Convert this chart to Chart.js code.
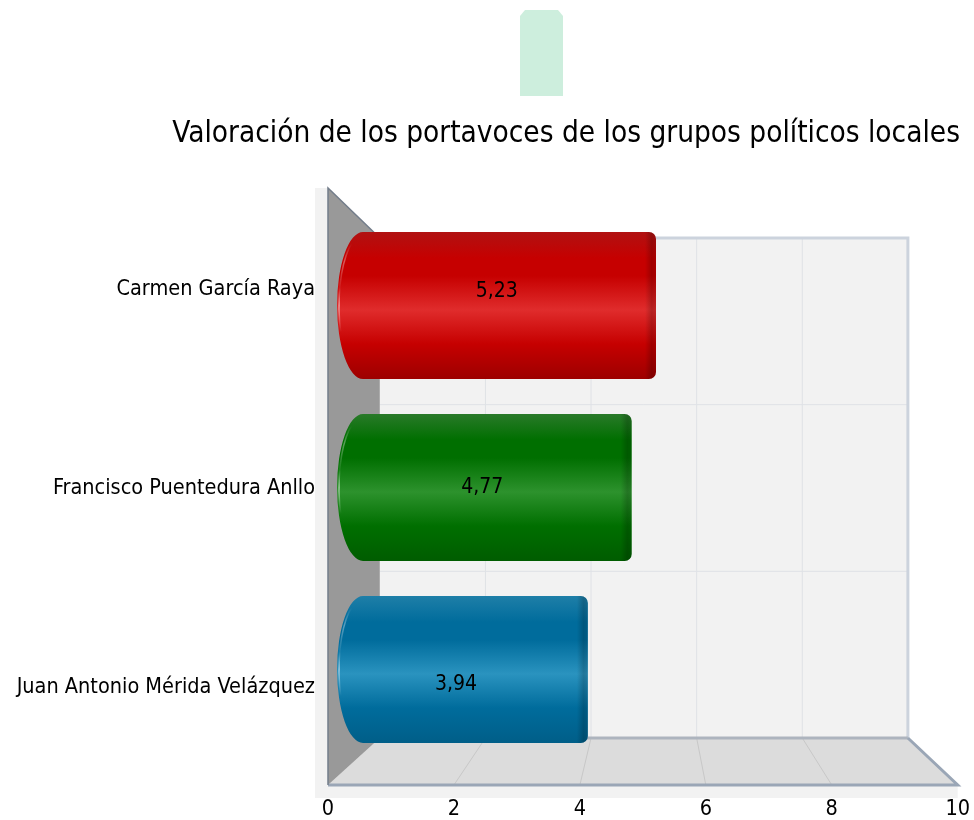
<!DOCTYPE html>
<html lang="es">
<head>
<meta charset="utf-8">
<title>Valoración de los portavoces</title>
<script src="https://cdn.jsdelivr.net/npm/chart.js@4"></script>
<style>
  html, body { margin: 0; background: #fff; overflow: hidden; }
  canvas { display: block; }
</style>
</head>
<body>
<canvas id="portavocesChart" width="974" height="820"></canvas>
<script>
// Chart data
const portavoces = ["Carmen García Raya", "Francisco Puentedura Anllo", "Juan Antonio Mérida Velázquez"];
const valoraciones = [5.23, 4.77, 3.94];
const ticksValoracion = [0, 2, 4, 6, 8, 10];
const tituloGrafico = "Valoración de los portavoces de los grupos políticos locales";

// Bar colours: top edge, body, highlight, bottom edge
const coloresArriba = ["#b01212", "#2a7a2a", "#1f7fa8"];
const coloresBase = ["#c60000", "#006f00", "#006c9c"];
const coloresBrillo = ["#e02c2c", "#2d922d", "#2a93bf"];
const coloresAbajo = ["#9c0000", "#005c00", "#005e88"];

const FONT = '"DejaVu Sans Condensed", "DejaVu Sans", sans-serif';

// Vertical cylinder shading, one gradient per bar
function barGradient(context) {
    const i = context.dataIndex;
    const chart = context.chart;
    const centre = chart.scales.yBars ? chart.scales.yBars.getPixelForValue(i) : NaN;
    if (!Number.isFinite(centre)) return coloresBase[i] || coloresBase[0];
    const half = 74;
    const g = chart.ctx.createLinearGradient(0, centre - half, 0, centre + half);
    g.addColorStop(0, coloresArriba[i]);
    g.addColorStop(0.18, coloresBase[i]);
    g.addColorStop(0.3, coloresBase[i]);
    g.addColorStop(0.53, coloresBrillo[i]);
    g.addColorStop(0.76, coloresBase[i]);
    g.addColorStop(1, coloresAbajo[i]);
    return g;
}

// Outline of a bar: half ellipse on the left, small radius on the right
function barPath(ctx, bar) {
    const left = bar.base, right = bar.x;
    const top = bar.y - bar.height / 2, bottom = bar.y + bar.height / 2;
    const rx = 26, r = 7;
    ctx.moveTo(left + rx, top);
    ctx.lineTo(right - r, top);
    ctx.arcTo(right, top, right, top + r, r);
    ctx.lineTo(right, bottom - r);
    ctx.arcTo(right, bottom, right - r, bottom, r);
    ctx.lineTo(left + rx, bottom);
    ctx.ellipse(left + rx, bar.y, rx, bar.height / 2, 0, Math.PI / 2, Math.PI * 1.5);
    ctx.closePath();
}

// The 3D box behind the bars
const frame3d = {
    id: "frame3d",
    beforeDraw(chart) {
        const ctx = chart.ctx;
        const a = chart.chartArea;
        ctx.save();
        ctx.fillStyle = "#fff";
        ctx.fillRect(0, 0, chart.width, chart.height);

        // pale block at the top of the picture
        ctx.fillStyle = "#cdeedd";
        ctx.beginPath();
        ctx.moveTo(520, 96);
        ctx.lineTo(520, 16);
        ctx.lineTo(525, 10);
        ctx.lineTo(558, 10);
        ctx.lineTo(563, 16);
        ctx.lineTo(563, 96);
        ctx.closePath();
        ctx.fill();

        // axis bands
        ctx.fillStyle = "#f2f2f2";
        ctx.fillRect(a.left - 13, a.top, 13, a.bottom - a.top);
        ctx.fillRect(a.left - 13, a.bottom, a.right - a.left + 13, 13);
        ctx.restore();
    },
    beforeDatasetsDraw(chart) {
        const ctx = chart.ctx;
        const a = chart.chartArea;
        const x = chart.scales.x;
        const back = chart.scales.xBars;
        const backLeft = back.getPixelForValue(0);
        const backRight = back.getPixelForValue(10);
        const backTop = a.top + 50;
        const backBottom = a.bottom - 47;

        ctx.save();
        // back wall
        ctx.fillStyle = "#f2f2f2";
        ctx.fillRect(backLeft, backTop, backRight - backLeft, backBottom - backTop);

        // floor
        ctx.fillStyle = "#dcdcdc";
        ctx.beginPath();
        ctx.moveTo(a.left, a.bottom);
        ctx.lineTo(a.right, a.bottom);
        ctx.lineTo(backRight, backBottom);
        ctx.lineTo(backLeft, backBottom);
        ctx.closePath();
        ctx.fill();

        // grid on the wall and the floor
        ctx.lineWidth = 1;
        ctx.strokeStyle = "#dfe2e6";
        const band = (backBottom - backTop) / 3;
        [1, 2].forEach(n => {
            ctx.beginPath();
            ctx.moveTo(backLeft, backTop + band * n);
            ctx.lineTo(backRight, backTop + band * n);
            ctx.stroke();
        });
        ticksValoracion.slice(1, -1).forEach(v => {
            const bx = back.getPixelForValue(v);
            ctx.strokeStyle = "#dfe2e6";
            ctx.beginPath();
            ctx.moveTo(bx, backTop);
            ctx.lineTo(bx, backBottom);
            ctx.stroke();
            ctx.strokeStyle = "#c8c8c8";
            ctx.beginPath();
            ctx.moveTo(bx, backBottom);
            ctx.lineTo(x.getPixelForValue(v), a.bottom);
            ctx.stroke();
        });

        // left wall
        ctx.fillStyle = "#999999";
        ctx.beginPath();
        ctx.moveTo(a.left, a.top);
        ctx.lineTo(backLeft, backTop);
        ctx.lineTo(backLeft, backBottom);
        ctx.lineTo(a.left, a.bottom);
        ctx.closePath();
        ctx.fill();

        // frame edges
        ctx.lineWidth = 3;
        ctx.strokeStyle = "#ccd3dd";
        ctx.beginPath();
        ctx.moveTo(backLeft, backTop);
        ctx.lineTo(backRight, backTop);
        ctx.lineTo(backRight, backBottom);
        ctx.stroke();
        ctx.strokeStyle = "#adb4be";
        ctx.beginPath();
        ctx.moveTo(backLeft, backBottom);
        ctx.lineTo(backRight, backBottom);
        ctx.stroke();
        ctx.strokeStyle = "#9aa6b6";
        ctx.beginPath();
        ctx.moveTo(a.left, a.bottom);
        ctx.lineTo(a.right, a.bottom);
        ctx.lineTo(backRight, backBottom);
        ctx.stroke();
        ctx.lineWidth = 1.5;
        ctx.strokeStyle = "#737d8a";
        ctx.beginPath();
        ctx.moveTo(a.left, a.bottom);
        ctx.lineTo(a.left, a.top);
        ctx.lineTo(backLeft, backTop);
        ctx.stroke();
        ctx.restore();
    },
    // Shape the bars while the library fills them
    beforeDatasetDraw(chart, args) {
        const ctx = chart.ctx;
        ctx.save();
        ctx.beginPath();
        args.meta.data.forEach(bar => barPath(ctx, bar));
        ctx.clip();
    },
    afterDatasetDraw(chart, args) {
        const ctx = chart.ctx;
        args.meta.data.forEach(bar => {
            const top = bar.y - bar.height / 2;
            // darker right end
            const cap = ctx.createLinearGradient(bar.x - 11, 0, bar.x, 0);
            cap.addColorStop(0, "rgba(0,0,0,0)");
            cap.addColorStop(0.6, "rgba(0,0,0,0.2)");
            cap.addColorStop(1, "rgba(0,0,0,0.14)");
            ctx.fillStyle = cap;
            ctx.fillRect(bar.x - 11, top, 11, bar.height);
            // light crescent following the left end
            const shine = ctx.createLinearGradient(0, top, 0, top + bar.height);
            shine.addColorStop(0.08, "rgba(255,255,255,0)");
            shine.addColorStop(0.2, "rgba(255,255,255,0.35)");
            shine.addColorStop(0.38, "rgba(255,255,255,0.06)");
            shine.addColorStop(0.5, "rgba(255,255,255,0.55)");
            shine.addColorStop(0.68, "rgba(255,255,255,0)");
            ctx.strokeStyle = shine;
            ctx.lineWidth = 1.5;
            ctx.beginPath();
            ctx.ellipse(bar.base + 26, bar.y, 24, bar.height / 2 - 3, 0, Math.PI * 0.55, Math.PI * 1.45);
            ctx.stroke();
        });
        ctx.restore();
    },
    // Value labels follow the front scales rather than the bars
    afterDatasetsDraw(chart) {
        const ctx = chart.ctx;
        const bars = chart.getDatasetMeta(0).data;
        ctx.save();
        ctx.fillStyle = "#000";
        ctx.font = "21px " + FONT;
        ctx.textAlign = "center";
        ctx.textBaseline = "middle";
        bars.forEach((bar, i) => {
            const label = valoraciones[i].toFixed(2).replace(".", ",");
            const y = (chart.scales.y.getPixelForValue(i) * 6 + bar.y) / 7;
            ctx.fillText(label, chart.scales.x.getPixelForValue(valoraciones[i] / 2) + 4, y + 1);
        });
        ctx.restore();
    }
};

const chart = new Chart(document.getElementById("portavocesChart"), {
    type: "bar",
    data: {
        labels: portavoces,
        datasets: [{
            data: valoraciones.map((v, i) => ({ x: v, y: i })),
            xAxisID: "xBars",
            yAxisID: "yBars",
            base: -0.81,
            backgroundColor: barGradient,
            borderWidth: 0,
            barThickness: 147
        }]
    },
    plugins: [frame3d],
    options: {
        indexAxis: "y",
        responsive: false,
        animation: false,
        events: [],
        layout: { autoPadding: false, padding: { left: 0, right: 14, top: 0, bottom: 0 } },
        plugins: {
            legend: { display: false },
            tooltip: { enabled: false },
            title: {
                display: true,
                text: tituloGrafico,
                align: "end",
                color: "#000",
                font: { family: FONT, size: 29.5, weight: "normal", lineHeight: 1 },
                padding: { top: 120, bottom: 38.5 }
            }
        },
        scales: {
            // Visible axes run along the front edge of the box
            x: {
                type: "linear",
                min: 0,
                max: 10,
                afterBuildTicks: s => { s.ticks = ticksValoracion.map(v => ({ value: v })); },
                afterFit: s => { s.height = 35; },
                grid: { display: false },
                border: { display: false },
                ticks: { color: "#000", padding: 4, maxRotation: 0, font: { family: FONT, size: 21.5 } }
            },
            y: {
                type: "category",
                labels: portavoces,
                offset: true,
                afterFit: s => { s.width = 328; },
                grid: { display: false },
                border: { display: false },
                ticks: { color: "#000", padding: 5, labelOffset: 2, autoSkip: false, font: { family: FONT, size: 21.5 } }
            },
            // Hidden axes place the bars against the back of the box
            xBars: {
                axis: "x",
                type: "linear",
                display: false,
                min: -0.981,
                max: 10.943
            },
            yBars: {
                axis: "y",
                type: "linear",
                display: false,
                offset: false,
                reverse: true,
                min: -0.6456,
                max: 2.635
            }
        }
    }
});
</script>
</body>
</html>
